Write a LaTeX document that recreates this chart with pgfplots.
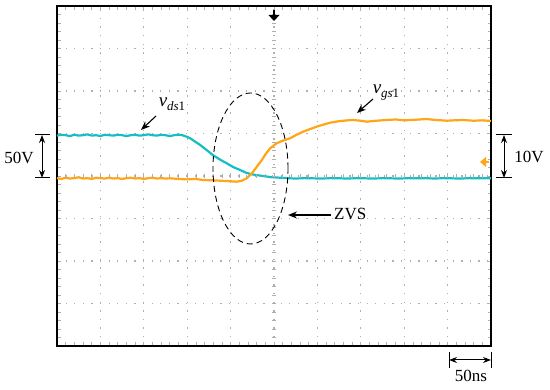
\documentclass[border=0pt]{standalone}
\usepackage{pgfplots}
\pgfplotsset{compat=1.18}
\usepackage{fontspec}
\setmainfont{Liberation Serif}
\usetikzlibrary{arrows.meta}
\definecolor{cyanT}{RGB}{22,190,196}
\definecolor{orangeT}{RGB}{255,165,22}
\definecolor{gridG}{RGB}{175,175,175}
\pgfplotstableread{
x y
0.00 0.95
0.10 0.97
0.20 0.96
0.30 0.94
0.40 0.97
0.50 0.95
0.60 0.96
0.70 0.98
0.80 0.95
0.90 0.96
1.00 0.94
1.10 0.97
1.20 0.96
1.30 0.95
1.40 0.97
1.50 0.96
1.60 0.94
1.70 0.96
1.80 0.97
1.90 0.95
2.00 0.96
2.10 0.98
2.20 0.96
2.30 0.95
2.40 0.97
2.50 0.96
2.60 0.94
2.70 0.96
2.80 0.97
2.87 0.965
3.00 0.92
3.07 0.887
3.18 0.81
3.30 0.729
3.45 0.61
3.59 0.494
3.75 0.39
3.91 0.299
4.06 0.21
4.22 0.141
4.35 0.08
4.45 0.047
4.60 0.02
4.75 0.00
4.95 -0.03
5.14 -0.04
5.30 -0.05
5.50 -0.06
5.70 -0.05
5.90 -0.055
6.10 -0.06
6.30 -0.05
6.52 -0.054
6.70 -0.06
6.90 -0.05
7.10 -0.055
7.30 -0.06
7.50 -0.05
7.70 -0.055
7.90 -0.06
8.10 -0.05
8.30 -0.055
8.50 -0.05
8.70 -0.06
8.90 -0.05
9.10 -0.055
9.30 -0.06
9.50 -0.05
9.70 -0.055
9.90 -0.05
10.00 -0.055
}\cyandata
\pgfplotstableread{
x y
0.00 -0.05
0.10 -0.07
0.20 -0.04
0.30 -0.06
0.40 -0.05
0.50 -0.03
0.60 -0.06
0.70 -0.05
0.80 -0.07
0.90 -0.04
1.00 -0.05
1.10 -0.06
1.20 -0.04
1.30 -0.06
1.40 -0.05
1.50 -0.07
1.60 -0.05
1.70 -0.04
1.80 -0.06
1.90 -0.05
2.00 -0.07
2.10 -0.05
2.20 -0.04
2.30 -0.06
2.40 -0.05
2.50 -0.06
2.60 -0.054
2.80 -0.07
3.00 -0.08
3.20 -0.07
3.36 -0.094
3.55 -0.10
3.75 -0.11
3.95 -0.12
4.14 -0.134
4.26 -0.11
4.37 -0.054
4.45 0.02
4.52 0.101
4.62 0.24
4.72 0.376
4.81 0.52
4.91 0.652
5.06 0.769
5.20 0.83
5.37 0.887
5.52 0.97
5.67 1.042
5.82 1.10
5.98 1.160
6.14 1.21
6.29 1.254
6.50 1.29
6.70 1.31
6.82 1.318
7.00 1.30
7.14 1.278
7.35 1.30
7.60 1.318
7.80 1.33
8.00 1.31
8.20 1.32
8.52 1.341
8.70 1.32
8.99 1.301
9.15 1.31
9.36 1.318
9.60 1.30
9.80 1.31
10.00 1.294
}\orangedata
\begin{document}
\begin{tikzpicture}[x=1pt,y=1pt]
\path (0,0) rectangle (550,390);
\begin{axis}[
  at={(57pt,44pt)}, anchor=south west,
  width=434pt, height=340pt, scale only axis,
  xmin=0, xmax=10, ymin=-4, ymax=4,
  xtick={0,...,10}, ytick={-4,...,4},
  xticklabels={}, yticklabels={},
  minor x tick num=4, minor y tick num=4,
  tick align=inside,
  major tick length=3.5pt, minor tick length=3.5pt,
  every tick/.style={gridG, line width=0.7pt},
  grid=major,
  major grid style={gridG, line width=1.3pt, dash pattern=on 1.3pt off 7.3pt},
  axis line style={black, line width=1.6pt},
  clip=true,
]
\addplot[cyanT, line width=2.2pt, line join=round] table[x=x,y=y]{\cyandata};
\addplot[orangeT, line width=2.2pt, line join=round] table[x=x,y=y]{\orangedata};
\end{axis}
% center cross ticks
\foreach \i in {1,...,49} {
  \draw[gridG, line width=0.7pt] ({57+8.68*\i},212) -- ({57+8.68*\i},216);
}
\foreach \j in {1,...,39} {
  \draw[gridG, line width=0.7pt] (272,{44+8.5*\j}) -- (276,{44+8.5*\j});
}
% top trigger marker
\draw[black, line width=1.6pt] (274,380) -- (274,374);
\fill[black] (268.5,375) -- (279.5,375) -- (274,369) -- cycle;
% right orange level marker
\fill[orangeT] (480,228) -- (486,233) -- (486,223) -- cycle;
\draw[orangeT, line width=2pt] (485,228) -- (489,228);
% ellipse
\draw[black, line width=0.9pt, dash pattern=on 6pt off 4pt] (250.5,221.5) ellipse [x radius=37.5, y radius=75.5];
% v_ds1
\node at (172,286) {{\fontsize{19}{22}\selectfont\itshape v}\raisebox{-4pt}{\fontsize{13}{15}\selectfont\itshape ds\upshape 1}};
\draw[black, line width=1.1pt, -{Stealth[length=9pt,width=7pt]}] (156,274) -- (141,260);
% v_gs1
\node at (386,297) {{\fontsize{19}{22}\selectfont\itshape v}\raisebox{-4pt}{\fontsize{13}{15}\selectfont\itshape gs\upshape 1}};
\draw[black, line width=1.1pt, -{Stealth[length=9pt,width=7pt]}] (373,291) -- (357,277);
% ZVS
\draw[black, line width=1.1pt, -{Stealth[length=9pt,width=7pt]}] (331,175) -- (288,175);
\node[anchor=west, inner sep=0pt] at (334,176) {\fontsize{17}{20}\selectfont ZVS};
% 50V
\draw[black, line width=1pt] (35,255) -- (50,255);
\draw[black, line width=1pt] (35,212) -- (50,212);
\draw[black, line width=1pt, {Stealth[length=8pt,width=6pt]}-{Stealth[length=8pt,width=6pt]}] (42,255) -- (42,212);
\node at (19,232) {\fontsize{17}{20}\selectfont 50V};
% 10V
\draw[black, line width=1pt] (496,255) -- (512,255);
\draw[black, line width=1pt] (496,212) -- (512,212);
\draw[black, line width=1pt, {Stealth[length=8pt,width=6pt]}-{Stealth[length=8pt,width=6pt]}] (504,255) -- (504,212);
\node at (529,233) {\fontsize{17}{20}\selectfont 10V};
% 50ns
\draw[black, line width=1pt] (449,22) -- (449,38);
\draw[black, line width=1pt] (491,22) -- (491,38);
\draw[black, line width=1pt, {Stealth[length=8pt,width=6pt]}-{Stealth[length=8pt,width=6pt]}] (449,30) -- (491,30);
\node at (471,14) {\fontsize{17}{20}\selectfont 50ns};
\end{tikzpicture}
\end{document}
